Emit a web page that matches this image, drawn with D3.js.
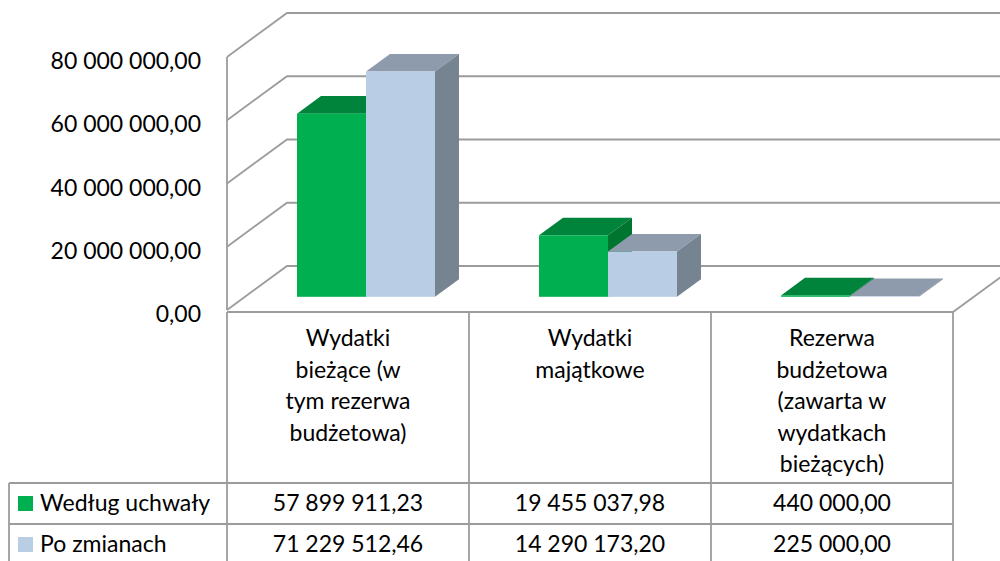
<!DOCTYPE html>
<html><head><meta charset="utf-8">
<script src="https://cdn.jsdelivr.net/npm/d3@7"></script>
<style>
html,body{margin:0;padding:0;background:#fff;}
svg{display:block;font-family:Lato,"Noto Sans",sans-serif;}
</style></head>
<body>
<svg id="chart" width="1000" height="561"></svg>
<script>
// ---- data ----
const categories = ["Wydatki bieżące (w tym rezerwa budżetowa)", "Wydatki majątkowe", "Rezerwa budżetowa (zawarta w wydatkach bieżących)"];
const categoryLines = [
  ["Wydatki", "bieżące (w", "tym rezerwa", "budżetowa)"],
  ["Wydatki", "majątkowe"],
  ["Rezerwa", "budżetowa", "(zawarta w", "wydatkach", "bieżących)"]
];
const seriesNames = ["Według uchwały", "Po zmianach"];
const wedlugUchwaly = [57899911.23, 19455037.98, 440000.00];
const poZmianach = [71229512.46, 14290173.20, 225000.00];
const yTicks = [0, 20000000, 40000000, 60000000, 80000000];

const seriesValues = [wedlugUchwaly, poZmianach];
const colors = [
  {front: "#00b050", top: "#00843c", side: "#007530"},
  {front: "#b9cde5", top: "#8e9bac", side: "#768390"}
];

const svg = d3.select("#chart");
const pl = d3.formatLocale({decimal: ",", thousands: " ", grouping: [3], currency: ["", ""]});
const fmt = pl.format(",.2f");
const FS = 23;

// geometry
const FX0 = 227, FX1 = 953;
const DX = 60, DY = -44;
const zFront = 0.3, zBack = 0.7;
const y = d3.scaleLinear().domain([0, 80000000]).range([310, 57]);
const x0 = d3.scaleBand().domain(categories).range([FX0, FX1]);
const x1 = d3.scaleBand().domain(seriesNames).range([0, x0.bandwidth()]).paddingOuter(0.754);

const gridColor = "#9c9c9c";
const g = svg.append("g");

// gridlines on back + side walls
g.selectAll("path.grid").data(yTicks).join("path")
  .attr("class", "grid")
  .attr("d", v => `M${FX0},${y(v)} L${FX0 + DX},${y(v) + DY} L1010,${y(v) + DY}`)
  .attr("fill", "none").attr("stroke", gridColor).attr("stroke-width", 1.8);

// left wall front edge
g.append("line").attr("x1", FX0).attr("x2", FX0).attr("y1", y(80000000)).attr("y2", y(0))
  .attr("stroke", gridColor).attr("stroke-width", 1.8);
// floor front & right edge
g.append("path")
  .attr("d", `M${FX0},${y(0) + 2} L${FX1},${y(0) + 2} L${FX1 + DX},${y(0) + 2 + DY}`)
  .attr("fill", "none").attr("stroke", gridColor).attr("stroke-width", 1.8);

// y tick labels
g.selectAll("text.ytick").data(yTicks).join("text")
  .attr("class", "ytick")
  .attr("x", 201).attr("y", v => y(v) + 12)
  .attr("text-anchor", "end").attr("font-size", FS).attr("fill", "#000")
  .text(v => fmt(v));

// bars (3D)
const bars = [];
categories.forEach((c, ci) => {
  seriesNames.forEach((s, si) => {
    bars.push({c, s, si, v: seriesValues[si][ci]});
  });
});
const barG = g.append("g");
bars.forEach(b => {
  const xl = x0(b.c) + x1(b.s) + zFront * DX;
  const xr = xl + x1.bandwidth();
  const yb = y(0) + zFront * DY;
  const yt = y(b.v) + zFront * DY;
  const ddx = (zBack - zFront) * DX, ddy = (zBack - zFront) * DY;
  const col = colors[b.si];
  barG.append("path")
    .attr("d", `M${xl},${yt} L${xr},${yt} L${xr + ddx},${yt + ddy} L${xl + ddx},${yt + ddy}Z`)
    .attr("fill", col.top);
  barG.append("path")
    .attr("d", `M${xr},${yt} L${xr + ddx},${yt + ddy} L${xr + ddx},${yb + ddy} L${xr},${yb}Z`)
    .attr("fill", col.side);
  barG.append("rect")
    .attr("x", xl).attr("y", yt).attr("width", xr - xl).attr("height", Math.max(0, yb - yt))
    .attr("fill", col.front);
});

// ---- data table ----
const T = g.append("g");
const tableLeft = 9;
const rowTop = [483, 524];
const colEdges = [FX0].concat(categories.map(c => x0(c) + x0.bandwidth()));

T.append("line").attr("x1", FX0).attr("x2", FX1).attr("y1", 312).attr("y2", 312);
colEdges.forEach(xe => {
  T.append("line").attr("x1", xe).attr("x2", xe).attr("y1", 312).attr("y2", 565);
});
T.append("line").attr("x1", tableLeft).attr("x2", tableLeft).attr("y1", 483).attr("y2", 565);
rowTop.concat([565]).forEach(ry => {
  T.append("line").attr("x1", tableLeft).attr("x2", FX1).attr("y1", ry).attr("y2", ry);
});
T.selectAll("line").attr("stroke", gridColor).attr("stroke-width", 1.8);

// category labels
categories.forEach((c, ci) => {
  const t = T.append("text")
    .attr("x", x0(c) + x0.bandwidth() / 2).attr("y", 346)
    .attr("text-anchor", "middle").attr("font-size", FS).attr("fill", "#000");
  categoryLines[ci].forEach((ln, li) => {
    t.append("tspan").attr("x", x0(c) + x0.bandwidth() / 2).attr("y", 346 + li * 31.5).text(ln);
  });
});

// legend + values
seriesNames.forEach((s, si) => {
  const ry = rowTop[si];
  T.append("rect").attr("x", 18).attr("y", ry + 13).attr("width", 15).attr("height", 15)
    .attr("fill", colors[si].front);
  T.append("text").attr("x", 40).attr("y", ry + 28).attr("font-size", FS).attr("fill", "#000").text(s);
  categories.forEach((c, ci) => {
    T.append("text")
      .attr("x", x0(c) + x0.bandwidth() / 2).attr("y", ry + 28)
      .attr("text-anchor", "middle").attr("font-size", FS).attr("fill", "#000")
      .text(fmt(seriesValues[si][ci]));
  });
});
</script>
</body></html>
